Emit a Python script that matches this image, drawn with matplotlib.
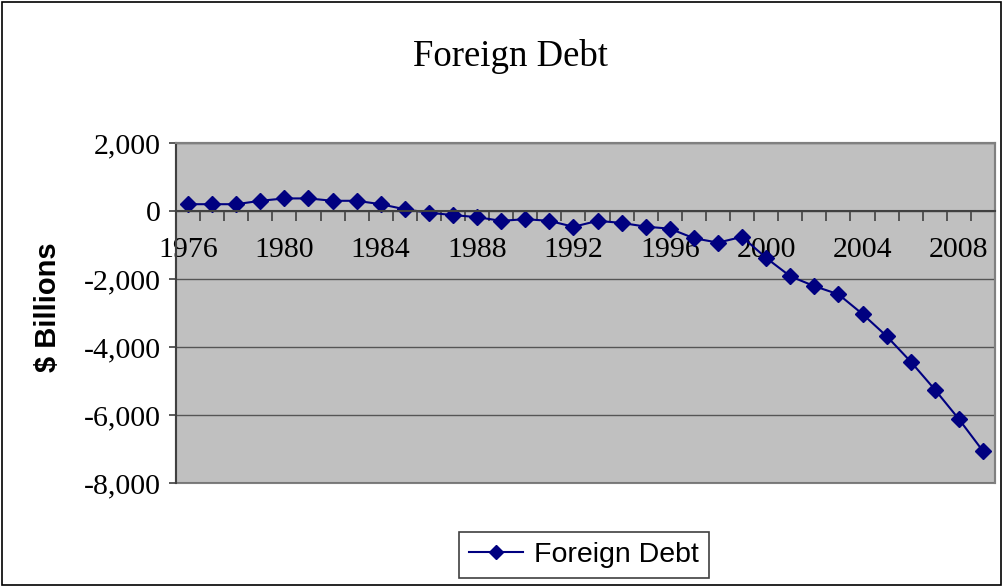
import numpy as np
import matplotlib.pyplot as plt
from matplotlib.patches import Rectangle

# 数据
years = list(range(1976, 2010))
debt = [200, 200, 200, 300, 370, 370, 300, 300, 200, 50,
        -50, -120, -180, -290, -240, -290, -465, -290, -350, -460,
        -520, -800, -930, -760, -1380, -1920, -2210, -2450, -3030, -3680,
        -4430, -5250, -6120, -7060]
label_years = list(range(1976, 2009, 4))
y_ticks = [2000, 0, -2000, -4000, -6000, -8000]

fig = plt.figure(figsize=(10.03, 5.86), dpi=100)
fig.patches.append(Rectangle((0.002, 0.002), 0.996, 0.995, transform=fig.transFigure,
                             fill=False, edgecolor='black', linewidth=1.2))

ax = fig.add_axes([176/1003, 1-483/586, (995-176)/1003, (483-143)/586])
ax.set_facecolor('#c0c0c0')
ax.patch.set_edgecolor('#808080')
ax.patch.set_linewidth(1.5)

ax.plot(years, debt, color='#000080', marker='D', markersize=8.5, linewidth=1.5,
        label='Foreign Debt')

ax.set_xlim(1975.5, 2009.5)
ax.set_ylim(-8000, 2000)
ax.set_yticks(y_ticks)
ax.set_yticklabels([f'{v:,}' for v in y_ticks])
ax.yaxis.grid(True, color='#555555', linewidth=1)
ax.set_axisbelow(True)

# x轴在0处
ax.spines['bottom'].set_position(('data', 0))
ax.spines['bottom'].set_color('#404040')
ax.spines['bottom'].set_linewidth(1.5)
ax.spines['left'].set_color('#404040')
ax.spines['left'].set_linewidth(1.5)
for s in ['top', 'right']:
    ax.spines[s].set_color('#808080')
    ax.spines[s].set_linewidth(1.5)

ax.set_xticks(label_years)
ax.set_xticklabels([str(y) for y in label_years])
ax.set_xticks(np.arange(1975.5, 2010, 1), minor=True)
ax.tick_params(axis='x', which='major', length=0, pad=19)
ax.tick_params(axis='x', which='minor', length=7, width=1.2, color='#404040', direction='out')
ax.tick_params(axis='y', length=5, width=1.2, color='#404040', pad=6)

for t in ax.get_xticklabels() + ax.get_yticklabels():
    t.set_fontfamily('Liberation Serif')
    t.set_fontsize(21.5)

fig.text(511/1003, 1-56/586, 'Foreign Debt', ha='center', va='center',
         fontfamily='Liberation Serif', fontsize=26.5)
fig.text(48/1003, 1-307/586, '$ Billions', ha='center', va='center', rotation=90,
         fontfamily='Liberation Sans', fontweight='bold', fontsize=21)

leg = fig.legend(loc='center', bbox_to_anchor=(584/1003, 1-555/586),
                 prop={'family': 'Liberation Sans', 'size': 20.5},
                 fancybox=False, edgecolor='#404040', framealpha=1,
                 handlelength=1.9, borderpad=0.35, handletextpad=0.4, borderaxespad=0)
leg.get_frame().set_linewidth(1.2)
for h in leg.legend_handles:
    h.set_markersize(7)

fig.savefig('out.png', dpi=100)
